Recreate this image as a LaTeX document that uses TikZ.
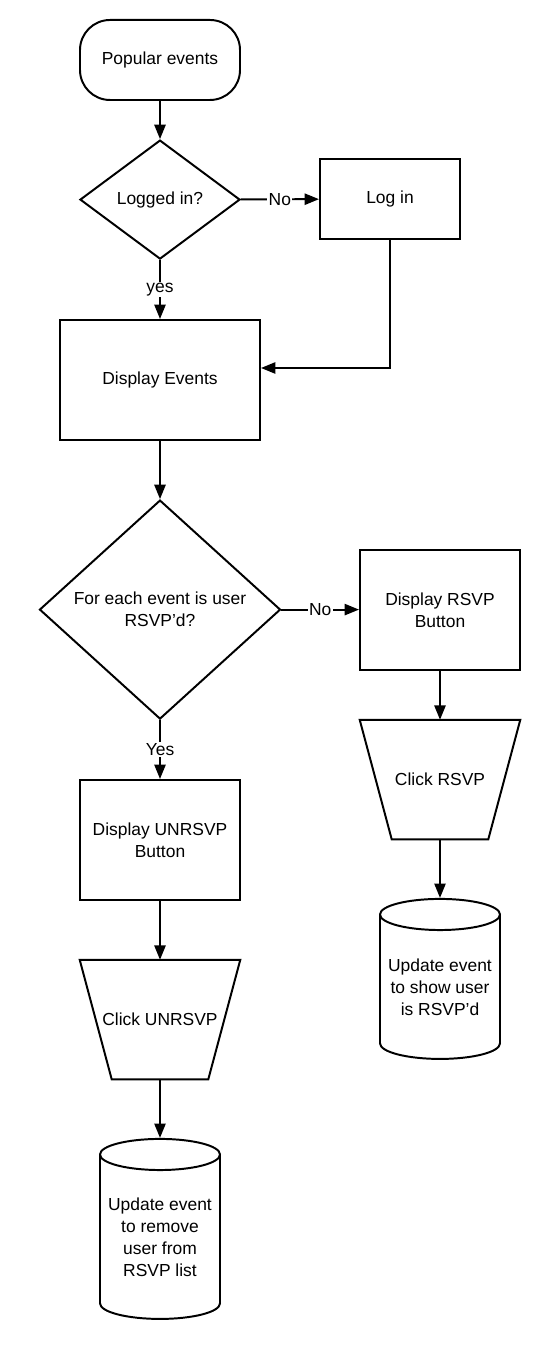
\documentclass[tikz,border=0pt]{standalone}
\usepackage{fontspec}
\setmainfont{Liberation Sans}
\usepackage{tikz}
\usetikzlibrary{positioning,arrows.meta,shapes.geometric}

\begin{document}
\begin{tikzpicture}[
  every node/.style={font=\fontsize{12.4}{15.6}\selectfont,align=center},
  proc/.style={draw,line width=1.4pt,minimum width=4cm,minimum height=3cm},
  decide/.style={draw,diamond,line width=1.4pt,inner sep=0pt},
  term/.style={draw,line width=1.4pt,rounded corners=0.75cm,minimum width=4cm,minimum height=2cm},
  manual/.style={minimum width=4cm,minimum height=2.975cm,inner sep=0pt},
  outline/.style={line width=1.4pt,line join=miter},
  store/.style={draw,cylinder,shape border rotate=90,aspect=0.3,line width=1.4pt,inner sep=0pt},
  flow/.style={line width=1.4pt,-{Triangle[length=0.36cm,width=0.28cm]}},
  lab/.style={fill=white,inner sep=1pt}
]
\useasboundingbox (0,0) rectangle (14,34);
\node[term] (popular) at (4,32.5) {Popular events};
\node[decide,minimum width=4cm,minimum height=2.975cm] (loggedin) at (4,29.01) {Logged in?};
\node[proc,minimum width=3.5cm,minimum height=2cm] (login) at (9.75,29.025) {Log in};
\node[proc,minimum width=5cm] (showevents) at (4,24.5) {Display Events};
\node[decide,minimum width=6.025cm,minimum height=5.475cm] (isrsvpd) at (4,18.76) {For each event is user\\RSVP'd?};
\node[proc] (rsvpbtn) at (11,18.75) {Display RSVP\\Button};
\node[manual] (clickrsvp) at (11,14.51) {Click RSVP};
\node[store,minimum width=3cm,minimum height=4cm] (addrsvp) at (11,9.32) {Update event\\to show user\\is RSVP'd};
\node[proc] (unrsvpbtn) at (4,13) {Display UNRSVP\\Button};
\node[manual] (clickunrsvp) at (4,8.51) {Click UNRSVP};
\node[store,minimum width=3cm,minimum height=4.5cm] (droprsvp) at (4,3.07) {Update event\\to remove\\user from\\RSVP list};

% manual input outlines
\foreach \n in {clickrsvp,clickunrsvp}
  \draw[outline] (\n.north west) -- (\n.north east) -- ([xshift=-0.8cm]\n.south east) -- ([xshift=0.8cm]\n.south west) -- cycle;

\draw[flow] (popular) -- (loggedin);
\draw[flow] (loggedin) -- node[lab] {No} (login);
\draw[flow] (loggedin) -- node[lab] {yes} (showevents);
\draw[flow] (login.south) |- ([yshift=0.3cm]showevents.east);
\draw[flow] (showevents) -- (isrsvpd);
\draw[flow] (isrsvpd) -- node[lab] {No} (isrsvpd.east -| rsvpbtn.west);
\draw[flow] (rsvpbtn) -- (clickrsvp);
\draw[flow] (clickrsvp) -- (addrsvp.north);
\draw[flow] (isrsvpd) -- node[lab] {Yes} (unrsvpbtn);
\draw[flow] (unrsvpbtn) -- (clickunrsvp);
\draw[flow] (clickunrsvp) -- (droprsvp.north);
\end{tikzpicture}
\end{document}
